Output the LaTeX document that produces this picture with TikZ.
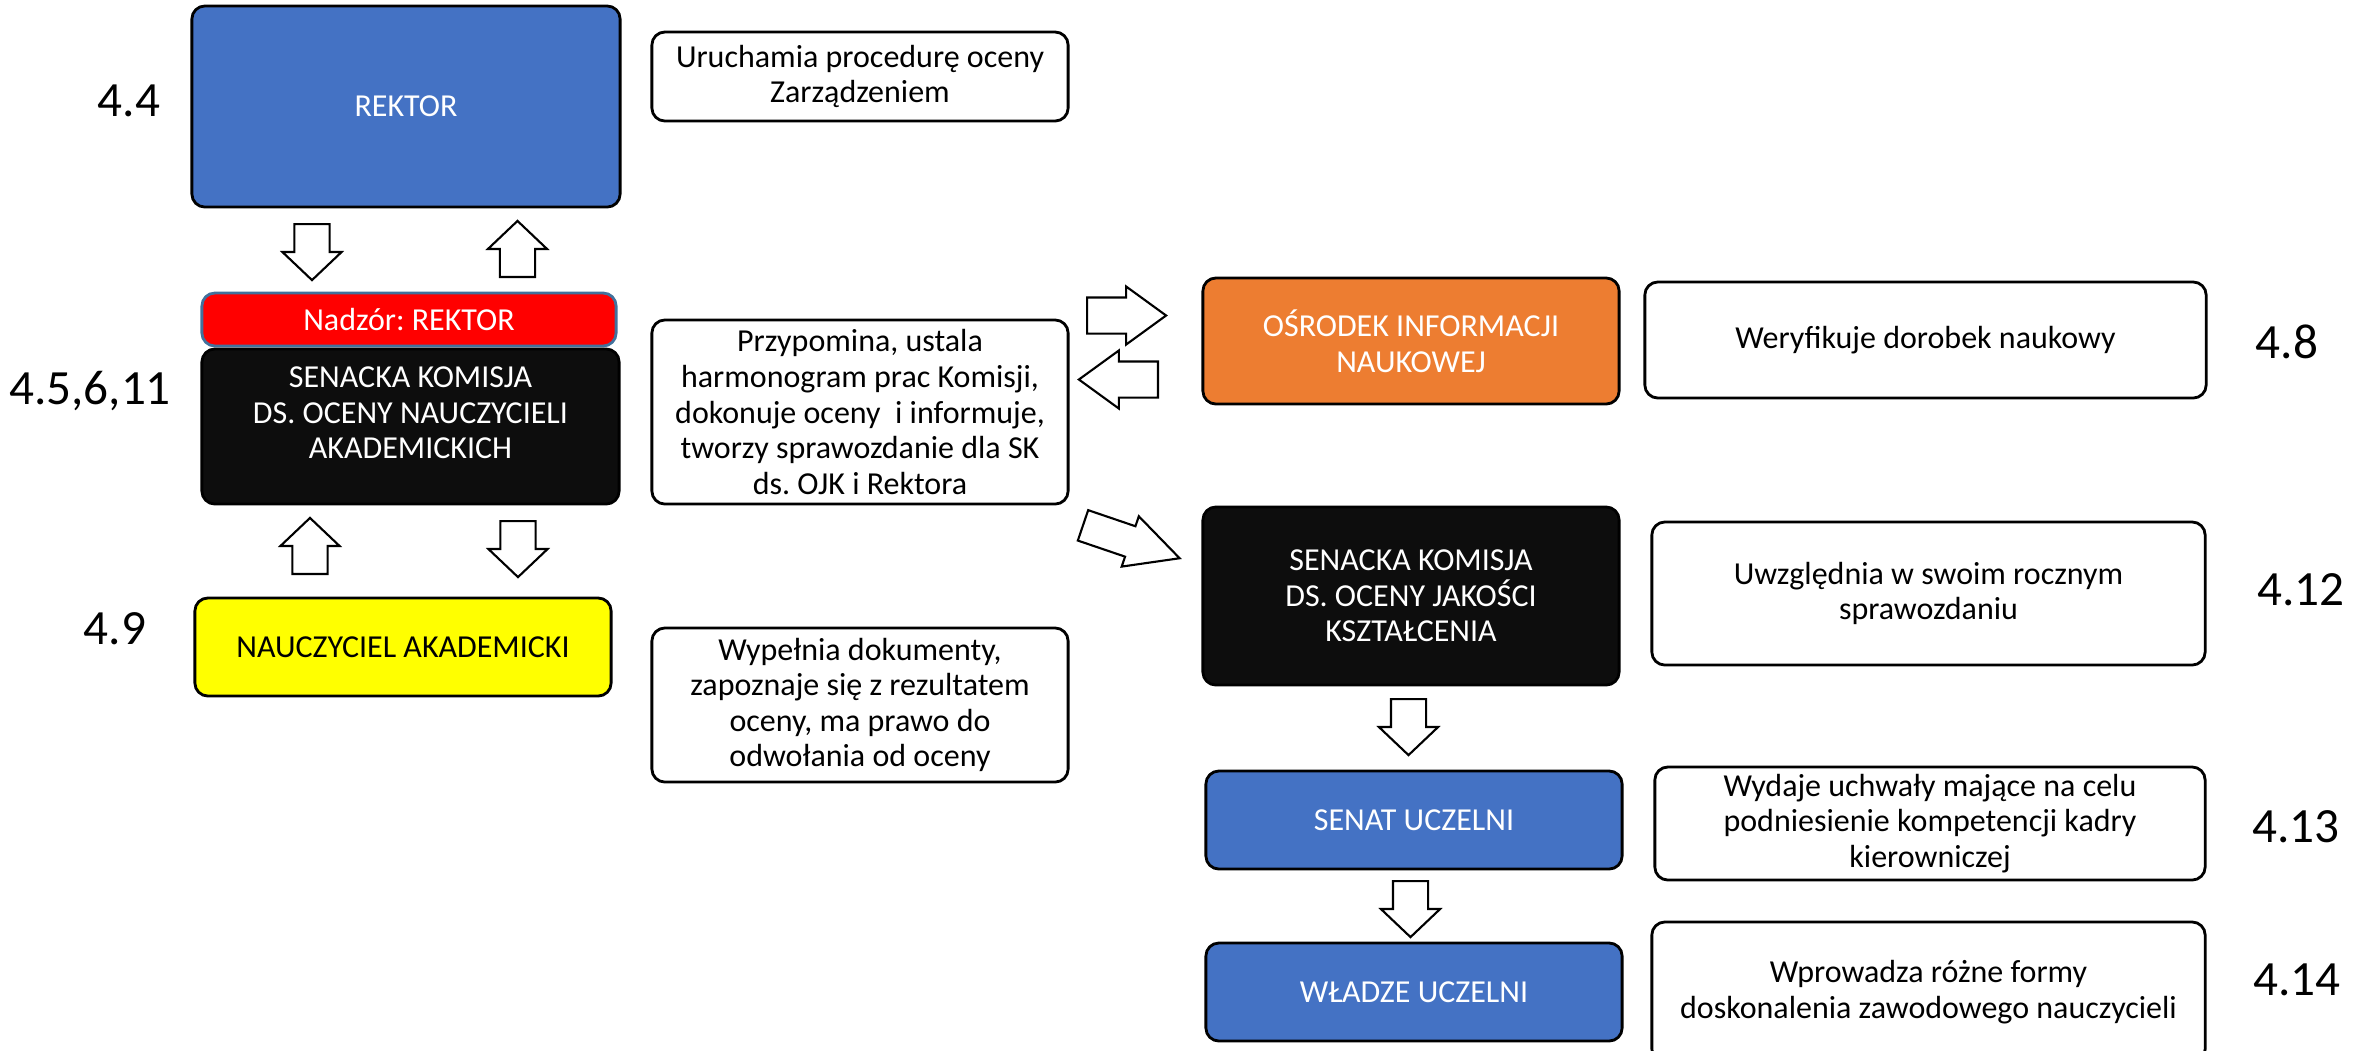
\documentclass[tikz,border=0pt]{standalone}
\usepackage{fontspec}
\setmainfont{Carlito}
\frenchspacing
\usetikzlibrary{shapes.arrows}
\definecolor{boxblue}{HTML}{4472C4}
\definecolor{boxorange}{HTML}{ED7D31}
\definecolor{boxdark}{HTML}{0D0D0D}
\definecolor{boxred}{HTML}{FF0000}
\definecolor{boxyellow}{HTML}{FFFF00}
\definecolor{redframe}{HTML}{41719C}
\begin{document}
\begin{tikzpicture}[x=0.01cm, y=-0.01cm,
  every node/.style={font=\fontsize{9.1}{10.1}\selectfont, align=center, inner sep=0pt},
  unitbox/.style={draw=black, line width=0.8pt, rounded corners=0.13cm, minimum width=4.16cm},
  bluebox/.style={unitbox, fill=boxblue, text=white},
  darkbox/.style={unitbox, fill=boxdark, text=white},
  notebox/.style={draw=black, line width=0.8pt, rounded corners=0.13cm, fill=white},
  numlabel/.style={font=\fontsize{14}{16}\selectfont},
  blockarrow/.style={single arrow, draw=black, fill=white, line width=0.6pt, anchor=tail,
    inner xsep=0pt, inner ysep=0.165cm, minimum width=0pt, minimum height=0.56cm,
    single arrow head extend=0.12cm, single arrow tip angle=93},
  hblockarrow/.style={blockarrow, inner ysep=0.17cm, minimum height=0.79cm,
    single arrow head extend=0.11cm, single arrow tip angle=72},
  dblockarrow/.style={blockarrow, inner ysep=0.15cm, minimum height=1.02cm,
    single arrow head extend=0.105cm, single arrow tip angle=54}]
\useasboundingbox (0,0) rectangle (2366,1050);

\node[bluebox, minimum width=4.28cm, minimum height=2.01cm] (rektor) at (406,106.5) {REKTOR};
\node[notebox, minimum width=4.16cm, minimum height=0.89cm] (uruchamia) at (860,76.5) {Uruchamia procedurę oceny\\Zarządzeniem};
\node[numlabel] (n44) at (129,101) {4.4};

\node[unitbox, draw=redframe, fill=boxred, text=white, minimum width=4.14cm, minimum height=0.53cm] (nadzor) at (409,319.5) {Nadzór: REKTOR};
\node[darkbox, minimum width=4.17cm, minimum height=1.55cm] (skna) at (410.5,426.5) {};
\node[text=white] (sknatxt) at (410.5,413) {SENACKA KOMISJA\\DS. OCENY NAUCZYCIELI\\AKADEMICKICH};
\node[numlabel] (n45) at (90,391) {4.5,6,11};

\node[unitbox, fill=boxyellow, minimum height=0.98cm] (nauczyciel) at (403,647) {NAUCZYCIEL AKADEMICKI};
\node[numlabel] (n49) at (115,629) {4.9};

\node[notebox, minimum width=4.16cm, minimum height=1.84cm] (przypomina) at (860,412) {Przypomina, ustala\\harmonogram prac Komisji,\\dokonuje oceny\ \ i informuje,\\tworzy sprawozdanie dla SK\\ds. OJK i Rektora};
\node[notebox, minimum width=4.16cm, minimum height=1.54cm] (wypelnia) at (860,705) {Wypełnia dokumenty,\\zapoznaje się z rezultatem\\oceny, ma prawo do\\odwołania od oceny};

\node[unitbox, fill=boxorange, text=white, minimum height=1.26cm] (osrodek) at (1411,341) {OŚRODEK INFORMACJI\\NAUKOWEJ};
\node[notebox, minimum width=5.61cm, minimum height=1.16cm] (weryfikuje) at (1925.5,340) {Weryfikuje dorobek naukowy};
\node[numlabel] (n48) at (2287,342) {4.8};

\node[darkbox, minimum height=1.78cm] (skojk) at (1411,596) {SENACKA KOMISJA\\DS. OCENY JAKOŚCI\\KSZTAŁCENIA};
\node[notebox, minimum width=5.53cm, minimum height=1.43cm] (uwzglednia) at (1928.5,593.5) {Uwzględnia w swoim rocznym\\sprawozdaniu};
\node[numlabel] (n412) at (2301,590) {4.12};

\node[bluebox, minimum height=0.98cm] (senat) at (1414,820) {SENAT UCZELNI};
\node[notebox, minimum width=5.50cm, minimum height=1.13cm] (wydaje) at (1930,823.5) {Wydaje uchwały mające na celu\\podniesienie kompetencji kadry\\kierowniczej};
\node[numlabel] (n413) at (2296,827) {4.13};

\node[bluebox, minimum height=0.98cm] (wladze) at (1414,992) {WŁADZE UCZELNI};
\node[notebox, minimum width=5.53cm, minimum height=1.40cm] (wprowadza) at (1928.5,992) {Wprowadza różne formy\\doskonalenia zawodowego nauczycieli};
\node[numlabel] (n414) at (2297,980) {4.14};

\node[blockarrow, rotate=-90] (rdown) at (312,223) {};
\node[blockarrow, rotate=90] (rup) at (517.5,278) {};
\node[blockarrow, rotate=90] (nup) at (310,575) {};
\node[blockarrow, rotate=-90] (ndown) at (518,520) {};
\node[hblockarrow] (toosrodek) at (1086,315.5) {};
\node[hblockarrow, rotate=180] (fromosrodek) at (1159,379.5) {};
\node[dblockarrow, rotate=-18.8] (toskojk) at (1082,525) {};
\node[blockarrow, rotate=-90] (tosenat) at (1408.5,698) {};
\node[blockarrow, rotate=-90] (towladze) at (1410.5,880) {};
\end{tikzpicture}
\end{document}
